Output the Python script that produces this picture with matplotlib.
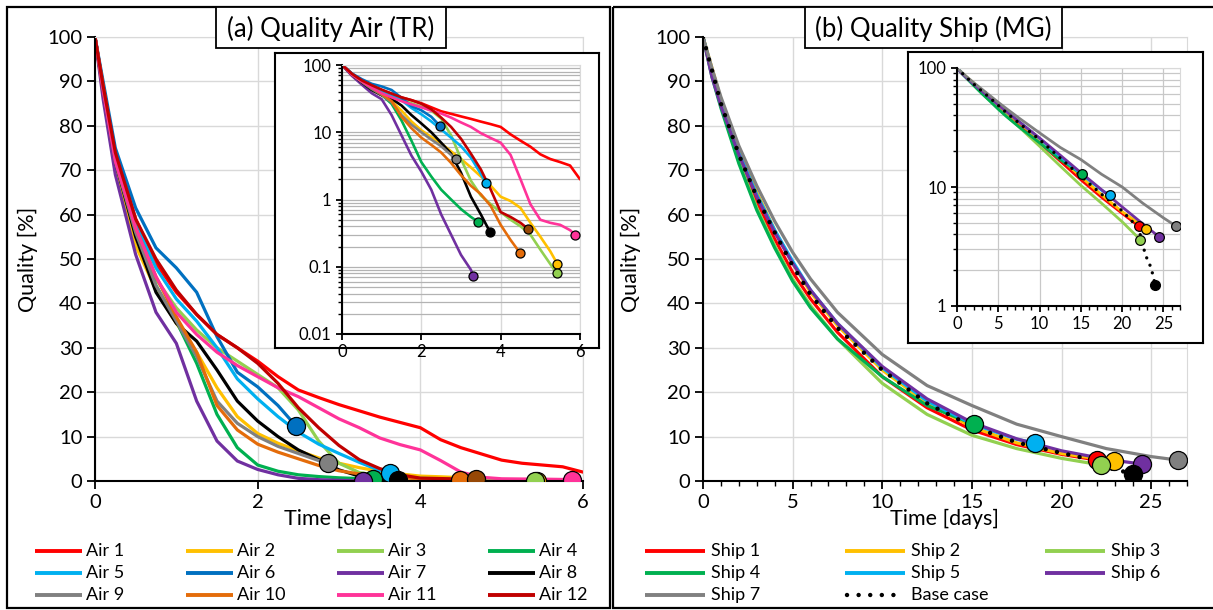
"""Quality decay curves: (a) air transport, (b) ship transport, each with a log-scale inset."""

import matplotlib
matplotlib.use("Agg")
import matplotlib.pyplot as plt
from matplotlib.patches import Rectangle
from matplotlib.ticker import MultipleLocator, FixedLocator, LogLocator, NullFormatter, FuncFormatter

plt.rcParams["font.family"] = ["Lato", "DejaVu Sans"]

W, H = 1213, 610

# ---------------- (a) air: quality [%] on a shared time grid [days] ----------------
air_grid = [0, 0.1, 0.25, 0.5, 0.75, 1.0, 1.25, 1.5, 1.75, 2.0, 2.25, 2.5, 2.75, 3.0,
            3.25, 3.5, 3.75, 4.0, 4.25, 4.5, 4.75, 5.0, 5.25, 5.5, 5.75, 6.0]
air_names = [f"Air {i}" for i in range(1, 13)]
air_colors = ["#FF0000", "#FFC000", "#92D050", "#00B050", "#00B0F0", "#0070C0",
              "#7030A0", "#000000", "#808080", "#E46C0A", "#FF3399", "#C00000"]
air_marker_colors = air_colors[:11] + ["#974806"]

air1 = [100, 89, 74, 59, 49, 42.5, 37.5, 33, 30, 27, 23.5, 20.5, 18.8, 17.2, 15.8, 14.4,
        13.2, 12, 9.3, 7.5, 6.1, 4.7, 4.0, 3.6, 3.2, 2.0]
air2 = [100, 87, 70, 53, 43, 35.5, 29, 21, 14.5, 10.7, 8.5, 6.8, 5.2, 4.0, 3.0, 2.2, 1.6,
        1.1, 0.95, 0.75, 0.45, 0.28, 0.17]
air3 = [100, 88, 72, 56, 45.5, 39, 34, 30, 27, 24, 21, 16, 9, 4, 1.9, 1.15, 0.85, 0.65,
        0.5, 0.4, 0.3, 0.18, 0.11]
air4 = [100, 88, 72, 56, 44, 36, 26.5, 15, 7.5, 3.6, 2.2, 1.4, 1.0, 0.72, 0.55]
air5 = [100, 89, 73, 58, 48, 41, 36, 30, 23, 18.5, 14.5, 11, 8.3, 6.2, 4.2, 2.4]
air6 = [100, 90, 75, 61.5, 52.5, 48, 42.5, 32.5, 24.5, 21.2, 17]
air7 = [100, 86, 69, 51, 38, 31, 18, 9, 4.5, 2.6, 1.4, 0.6, 0.3, 0.15, 0.09]
air8 = [100, 88, 72, 55, 42.5, 35.5, 31.5, 25, 18, 13.5, 10, 7, 4.8, 2.5, 1.1, 0.6]
air9 = [100, 88, 72, 56, 44, 36, 28, 18, 13, 10, 7.8, 6.2, 4.6]
air10 = [100, 89, 73, 57, 46, 37, 29, 17, 11.5, 8.3, 6.5, 5.0, 3.5, 2.3, 1.6, 1.2, 0.8,
         0.42, 0.25]
air11 = [100, 88, 72, 57, 46, 38, 33, 29, 26, 23.5, 21, 19, 16.5, 14, 12, 9.7, 8.2, 7,
         4.6, 2.0, 0.85, 0.5, 0.45, 0.42, 0.35]
air12 = [100, 89, 74, 59, 50, 43, 37.5, 33, 30, 26.5, 22, 16.5, 12, 8, 4.8, 2.8, 1.4,
         0.65, 0.55, 0.45]
air_series = [air1, air2, air3, air4, air5, air6, air7, air8, air9, air10, air11, air12]
# last point of each run (marked with a circle); Air 1 runs past the axis
air_end_t = [None, 5.43, 5.41, 3.42, 3.63, 2.47, 3.3, 3.73, 2.87, 4.49, 5.87, 4.68]
air_end_q = [None, 0.11, 0.08, 0.47, 1.75, 12.4, 0.074, 0.33, 4.0, 0.16, 0.3, 0.37]

# ---------------- (b) ship ----------------
ship_grid = [0, 0.5, 1, 2, 3, 4, 5, 6, 7.5, 10, 12.5, 15, 17.5, 20, 22.5, 25]
ship_names = [f"Ship {i}" for i in range(1, 8)]
ship_colors = ["#FF0000", "#FFC000", "#92D050", "#00B050", "#00B0F0", "#7030A0", "#808080"]

ship1 = [100, 92, 85, 73, 63, 54.5, 47, 41, 33.5, 23.5, 16.5, 11.5, 8.2, 6.0]
ship2 = [100, 93, 86, 75, 65, 56.5, 49, 42.5, 35, 25, 17.5, 12.2, 8.6, 6.2, 4.7]
ship3 = [100, 91.5, 84.5, 72, 61.5, 53, 45.5, 39.5, 32, 22, 15, 10.3, 7.3, 5.1]
ship4 = [100, 91, 84, 71.5, 61, 52.5, 45, 39, 32, 23.5, 17]
ship5 = [100, 92.5, 85.5, 74, 64.5, 56.5, 49.5, 43, 35.5, 25.5, 18, 12.9, 9.4]
ship6 = [100, 91, 84.5, 73.5, 64, 56, 49, 43, 35.5, 25.8, 18.5, 13.2, 9.5, 6.8, 4.9]
ship7 = [100, 93, 86.5, 75.5, 66.5, 58.5, 51.5, 45.5, 38, 28.5, 21.5, 17, 12.8, 10, 7.3, 5.5]
ship_series = [ship1, ship2, ship3, ship4, ship5, ship6, ship7]
ship_end_t = [22.0, 22.9, 22.2, 15.1, 18.5, 24.5, 26.5]
ship_end_q = [4.7, 4.4, 3.6, 12.8, 8.6, 3.8, 4.7]

base_t = [0, 0.5, 1, 2, 3, 4, 5, 6, 7.5, 10, 12.5, 15, 17.5, 20, 22, 22.5, 23, 23.5, 24]
base_q = [100, 92.5, 85, 73.5, 64, 56, 48.5, 42, 34.5, 25, 17.5, 12.3, 8.7, 6.3, 4.5, 3.2,
          2.5, 2.1, 1.5]


def frac(x0, y0, x1, y1):
    """pixel box (top-left origin) -> figure fraction rect"""
    return [x0 / W, 1 - y1 / H, (x1 - x0) / W, (y1 - y0) / H]


def curves(t_grid, series, end_t, end_q):
    out = []
    for q, te, qe in zip(series, end_t, end_q):
        t = list(t_grid[:len(q)])
        q = list(q)
        if te is not None:
            t.append(te)
            q.append(qe)
        out.append((t, q, te, qe))
    return out


def style_axes(ax, tick_len, label_size):
    for s in ("top", "right"):
        ax.spines[s].set_color("#d9d9d9")
        ax.spines[s].set_linewidth(0.8)
    for s in ("left", "bottom"):
        ax.spines[s].set_color("black")
        ax.spines[s].set_linewidth(1.5)
    ax.tick_params(which="major", direction="out", length=tick_len, width=1.3,
                   labelsize=label_size, pad=3)
    ax.tick_params(which="minor", direction="out", length=tick_len * 0.6, width=1.0)
    ax.set_axisbelow(True)


fig = plt.figure(figsize=(W / 100, H / 100), dpi=100)

air = curves(air_grid, air_series, air_end_t, air_end_q)
ship = curves(ship_grid, ship_series, ship_end_t, ship_end_q)
num_fmt = FuncFormatter(lambda v, p: f"{v:g}")

# ---- (a) main ----
axa = fig.add_axes(frac(95, 37, 583, 481), zorder=1)
for (t, q, te, qe), c in zip(air, air_colors):
    axa.plot(t, q, color=c, lw=2.3, solid_joinstyle="round", solid_capstyle="round")
for (t, q, te, qe), mc in zip(air, air_marker_colors):
    if te is not None:
        axa.plot([te], [qe], "o", ms=13, mfc=mc, mec="black", mew=0.9, zorder=5)
axa.set_xlim(0, 6)
axa.set_ylim(0, 100)
axa.xaxis.set_major_locator(MultipleLocator(2))
axa.yaxis.set_major_locator(MultipleLocator(10))
axa.grid(True, color="#d9d9d9", lw=1.0)
style_axes(axa, 6, 14.5)
axa.set_xlabel("Time [days]", fontsize=15.5)
axa.set_ylabel("Quality [%]", fontsize=15.5)
axa.xaxis.set_label_coords(0.5, -0.062)
axa.yaxis.set_label_coords(-0.117, 0.5)

# ---- (a) inset ----
fr = fig.add_axes(frac(275, 53, 599, 348), zorder=2)
fr.set_xticks([])
fr.set_yticks([])
for s in fr.spines.values():
    s.set_linewidth(1.5)
axai = fig.add_axes(frac(342, 65, 580, 334), zorder=3)
axai.set_facecolor("none")
for (t, q, te, qe), c in zip(air, air_colors):
    axai.plot(t, q, color=c, lw=1.9, solid_joinstyle="round", solid_capstyle="round")
for (t, q, te, qe), mc in zip(air, air_marker_colors):
    if te is not None:
        axai.plot([te], [qe], "o", ms=6.5, mfc=mc, mec="black", mew=0.9, zorder=5)
axai.set_yscale("log")
axai.set_xlim(0, 6)
axai.set_ylim(0.01, 100)
axai.xaxis.set_major_locator(MultipleLocator(2))
axai.yaxis.set_major_locator(FixedLocator([0.01, 0.1, 1, 10, 100]))
axai.yaxis.set_minor_locator(LogLocator(base=10, subs=range(2, 10)))
axai.yaxis.set_minor_formatter(NullFormatter())
axai.yaxis.set_major_formatter(num_fmt)
axai.grid(True, which="both", axis="y", color="#b3b3b3", lw=0.9)
axai.grid(True, which="major", axis="x", color="#d9d9d9", lw=1.0)
style_axes(axai, 4.5, 12)

# ---- (b) main ----
axb = fig.add_axes(frac(703, 37, 1187, 481), zorder=1)
for (t, q, te, qe), c in zip(ship, ship_colors):
    axb.plot(t, q, color=c, lw=2.3, solid_joinstyle="round", solid_capstyle="round")
axb.plot(base_t, base_q, color="black", lw=3.2, ls=(0, (0.01, 2.6)),
         dash_capstyle="round", zorder=3)
for (t, q, te, qe), c in zip(ship, ship_colors):
    axb.plot([te], [qe], "o", ms=13, mfc=c, mec="black", mew=0.9, zorder=5)
axb.plot([base_t[-1]], [base_q[-1]], "o", ms=13, mfc="black", mec="black", zorder=5)
axb.set_xlim(0, 27)
axb.set_ylim(0, 100)
axb.xaxis.set_major_locator(MultipleLocator(5))
axb.xaxis.set_minor_locator(MultipleLocator(1))
axb.yaxis.set_major_locator(MultipleLocator(10))
axb.grid(True, which="major", color="#d9d9d9", lw=1.0)
style_axes(axb, 6, 14.5)
axb.set_xlabel("Time [days]", fontsize=15.5)
axb.set_ylabel("Quality [%]", fontsize=15.5)
axb.xaxis.set_label_coords(0.5, -0.062)
axb.yaxis.set_label_coords(-0.128, 0.5)

# ---- (b) inset ----
fr = fig.add_axes(frac(908, 52, 1203, 343), zorder=2)
fr.set_xticks([])
fr.set_yticks([])
for s in fr.spines.values():
    s.set_linewidth(1.5)
axbi = fig.add_axes(frac(957, 68, 1180, 306), zorder=3)
axbi.set_facecolor("none")
for (t, q, te, qe), c in zip(ship, ship_colors):
    axbi.plot(t, q, color=c, lw=2.0, solid_joinstyle="round", solid_capstyle="round")
axbi.plot(base_t, base_q, color="black", lw=2.4, ls=(0, (0.01, 2.4)),
          dash_capstyle="round", zorder=3)
for (t, q, te, qe), c in zip(ship, ship_colors):
    axbi.plot([te], [qe], "o", ms=7, mfc=c, mec="black", mew=0.9, zorder=5)
axbi.plot([base_t[-1]], [base_q[-1]], "o", ms=7, mfc="black", mec="black", zorder=5)
axbi.set_yscale("log")
axbi.set_xlim(0, 27)
axbi.set_ylim(1, 100)
axbi.xaxis.set_major_locator(MultipleLocator(5))
axbi.xaxis.set_minor_locator(MultipleLocator(1))
axbi.yaxis.set_major_locator(FixedLocator([1, 10, 100]))
axbi.yaxis.set_minor_locator(LogLocator(base=10, subs=range(2, 10)))
axbi.yaxis.set_minor_formatter(NullFormatter())
axbi.yaxis.set_major_formatter(num_fmt)
axbi.grid(True, which="both", axis="y", color="#c8c8c8", lw=0.9)
axbi.grid(True, which="major", axis="x", color="#c8c8c8", lw=0.9)
style_axes(axbi, 4.5, 12)

# ---- overlay: panel frames, title boxes, legends (pixel coordinates) ----
ov = fig.add_axes([0, 0, 1, 1], zorder=10)
ov.set_xlim(0, W)
ov.set_ylim(H, 0)
ov.axis("off")
ov.set_facecolor("none")
ov.add_patch(Rectangle((7, 7), 603, 601, fill=False, lw=1.6, ec="black"))
ov.add_patch(Rectangle((613, 7), 610, 601, fill=False, lw=1.6, ec="black"))
for (x0, x1), label in [((216, 446), "(a) Quality Air (TR)"),
                        ((805, 1062), "(b) Quality Ship (MG)")]:
    ov.add_patch(Rectangle((x0, 7), x1 - x0, 41, fc="white", ec="black", lw=1.3))
    ov.text((x0 + x1) / 2, 28.5, label, ha="center", va="center", fontsize=18.5)

rows = [551, 573, 595]
air_cols = [35, 186, 337, 488]
for i, (name, c) in enumerate(zip(air_names, air_colors)):
    x, y = air_cols[i % 4], rows[i // 4]
    ov.plot([x, x + 47], [y, y], color=c, lw=2.8, solid_capstyle="butt")
    ov.text(x + 51, y, name, va="center", ha="left", fontsize=13)

ship_cols = [645, 845, 1045]
for i, (name, c) in enumerate(zip(ship_names, ship_colors)):
    x, y = ship_cols[i % 3], rows[i // 3]
    ov.plot([x, x + 60], [y, y], color=c, lw=2.8, solid_capstyle="butt")
    ov.text(x + 66, y, name, va="center", ha="left", fontsize=13)
x, y = ship_cols[1], rows[2]
ov.plot([x + 2, x + 60], [y, y], color="black", lw=3.2, ls=(0, (0.01, 2.6)),
        dash_capstyle="round")
ov.text(x + 66, y, "Base case", va="center", ha="left", fontsize=13)

fig.savefig("out.png", dpi=100)
